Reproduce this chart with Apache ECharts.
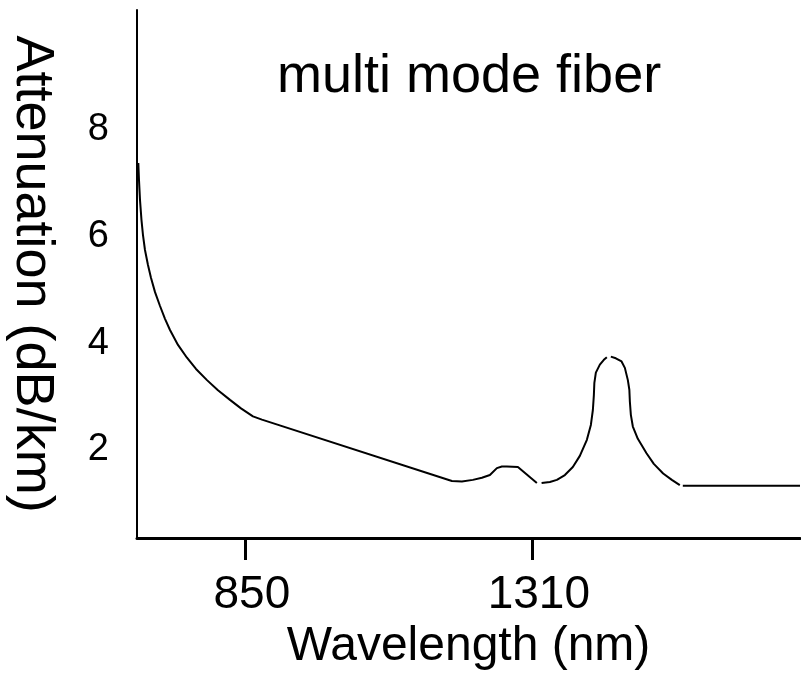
<!DOCTYPE html>
<html>
<head>
<meta charset="utf-8">
<script src="https://cdn.jsdelivr.net/npm/echarts@6/dist/echarts.min.js"></script>
<style>
  html, body { margin: 0; padding: 0; background: #fff; }
  #chart { width: 801px; height: 676px; }
</style>
</head>
<body>
<div id="chart"></div>
<script>
// curve, null = small break in the drawn line
var wavelength = [679.1, 680.2, 681.8, 684.2, 686.6, 689.8, 694.6, 699.4, 705.9, 713.9,
  721.9, 729.9, 742.7, 757.1, 771.6, 789.2, 806.8, 826.1, 843.7, 862.9, 877.3,
  1181.9, 1197.9, 1215.5, 1230.0, 1242.8, 1254.0, 1262.0, 1270.0, 1287.7, 1318.1, 1320,
  1325.7, 1339.0, 1350.2, 1363.0, 1375.8, 1387.0, 1398.3, 1404.7, 1407.9, 1409.5,
  1410.3, 1412.7, 1419.1, 1425.5, 1430.3, 1433,
  1436.7, 1444.7, 1453.9, 1459.2, 1464.0, 1466.4, 1467.2, 1468.8, 1472.0, 1480.0,
  1493.9, 1505.6, 1520.6, 1534.5, 1547.3, 1549,
  1552.1, 1740];
var attenuation = [7.38, 7.06, 6.69, 6.31, 6.03, 5.75, 5.47, 5.23, 4.96, 4.70,
  4.46, 4.25, 3.97, 3.73, 3.52, 3.31, 3.12, 2.94, 2.78, 2.63, 2.57,
  1.42, 1.41, 1.44, 1.48, 1.53, 1.66, 1.69, 1.69, 1.68, 1.38, null,
  1.38, 1.40, 1.44, 1.53, 1.68, 1.89, 2.19, 2.47, 2.75, 3.03,
  3.26, 3.45, 3.60, 3.69, 3.74, null,
  3.75, 3.72, 3.66, 3.54, 3.31, 3.13, 2.91, 2.66, 2.44, 2.21,
  1.94, 1.74, 1.56, 1.44, 1.34, null,
  1.33, 1.33];
var xTicks = [850, 1310];
var yTicks = [2, 4, 6, 8];

var points = wavelength.map(function (w, i) {
  return [w, attenuation[i]];
});

var chart = echarts.init(document.getElementById("chart"));
var font = "Liberation Sans, Arial, Helvetica, sans-serif";
var option = {
  animation: false,
  backgroundColor: "#fff",
  graphic: [
    {
      type: "text",
      left: 277,
      top: 50,
      style: {
        text: "multi mode fiber",
        fill: "#000",
        font: "54px " + font
      }
    }
  ],
  grid: { left: 137, right: 1, top: 10, bottom: 138, outerBoundsMode: "none" },
  xAxis: {
    type: "value",
    min: 677,
    max: 1740,
    name: "Wavelength (nm)",
    nameLocation: "middle",
    nameGap: 84,
    nameTextStyle: { color: "#000", fontSize: 48, fontFamily: font },
    axisLine: { show: true, lineStyle: { color: "#000", width: 3 } },
    axisTick: { show: true, length: 22, lineStyle: { color: "#000", width: 3 }, customValues: xTicks },
    axisLabel: {
      color: "#000", fontSize: 46, fontFamily: font, margin: 34,
      padding: [0, 0, 0, 14],
      customValues: xTicks,
      formatter: function (v) { return String(v); }
    },
    splitLine: { show: false }
  },
  yAxis: {
    type: "value",
    min: 0.35,
    max: 10.25,
    name: "Attenuation (dB/km)",
    nameLocation: "middle",
    nameRotate: -90,
    nameGap: 78,
    nameTextStyle: { color: "#000", fontSize: 54, fontFamily: font },
    axisLine: { show: true, lineStyle: { color: "#000", width: 2 } },
    axisTick: { show: false },
    axisLabel: { color: "#000", fontSize: 38, fontFamily: font, margin: 28, customValues: yTicks },
    splitLine: { show: false }
  },
  series: [
    {
      type: "line",
      data: points,
      smooth: false,
      showSymbol: false,
      connectNulls: false,
      lineStyle: { color: "#000", width: 2 }
    }
  ]
};
chart.setOption(option);
</script>
</body>
</html>
